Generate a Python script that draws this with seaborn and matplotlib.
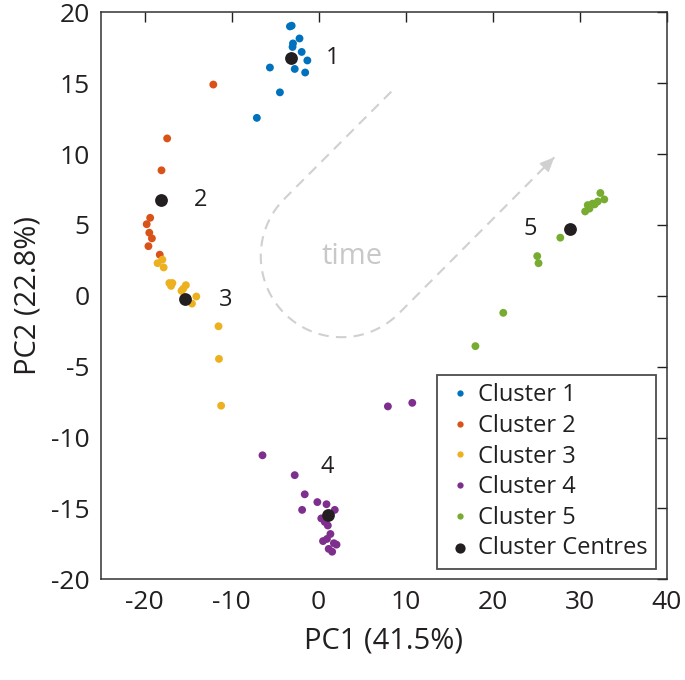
import numpy as np
import pandas as pd
import seaborn as sns
import matplotlib.pyplot as plt

# cluster points (PC1, PC2)
c1_x = [-3.3, -3.1, -2.2, -2.95, -3.0, -1.95, -1.3, -2.75, -1.55, -5.6, -4.45, -7.1]
c1_y = [19.0, 19.05, 18.15, 17.8, 17.55, 17.2, 16.6, 16.0, 15.75, 16.1, 14.35, 12.55]

c2_x = [-12.1, -17.4, -18.05, -19.35, -19.75, -19.45, -19.15, -19.55, -18.25]
c2_y = [14.9, 11.1, 8.85, 5.5, 5.05, 4.45, 4.05, 3.5, 2.9]

c3_x = [-17.95, -18.5, -17.8, -17.15, -16.8, -16.95, -15.25, -15.75, -15.55, -14.05, -14.55, -11.5, -11.45, -11.2]
c3_y = [2.55, 2.3, 2.0, 0.9, 0.9, 0.7, 0.75, 0.35, 0.5, -0.05, -0.55, -2.15, -4.45, -7.75]

c4_x = [7.95, 10.75, -6.45, -2.75, -1.6, -0.15, 0.9, -1.9, 1.85, 0.3, 0.7, 1.05, 1.35, 0.5, 0.95, 1.75, 2.05, 1.15, 1.55]
c4_y = [-7.8, -7.55, -11.25, -12.65, -14.0, -14.55, -14.7, -15.1, -15.1, -15.7, -15.95, -16.2, -16.8, -17.3, -17.15, -17.45, -17.55, -17.85, -18.05]

c5_x = [18.0, 21.2, 25.1, 25.25, 27.75, 30.6, 30.9, 31.1, 31.45, 31.7, 32.05, 32.35, 32.8]
c5_y = [-3.55, -1.2, 2.8, 2.3, 4.1, 5.95, 6.4, 6.15, 6.5, 6.45, 6.65, 7.25, 6.8]

centres_x = [-3.2, -18.1, -15.3, 1.05, 28.85]
centres_y = [16.8, 6.75, -0.25, -15.45, 4.7]

label_text = ['1', '2', '3', '4', '5']
label_x = [1.6, -13.6, -10.7, 1.0, 24.3]
label_y = [16.8, 6.75, -0.3, -12.1, 4.7]

cluster_names = ['Cluster 1', 'Cluster 2', 'Cluster 3', 'Cluster 4', 'Cluster 5']
cluster_colors = ['#0072BD', '#D95319', '#EDB120', '#7E2F8E', '#77AC30']

# "time" arrow: start, arc centre/radii, end
time_start = (8.34, 14.4)
time_arc = (2.64, 2.8, 9.29, 5.72)
time_end = (27.06, 9.77)

xs = [c1_x, c2_x, c3_x, c4_x, c5_x]
ys = [c1_y, c2_y, c3_y, c4_y, c5_y]
df = pd.concat([pd.DataFrame({'PC1': x, 'PC2': y, 'cluster': n})
                for x, y, n in zip(xs, ys, cluster_names)], ignore_index=True)
centres = pd.DataFrame({'PC1': centres_x, 'PC2': centres_y})

sns.set_style('white')
plt.rcParams['font.family'] = ['Open Sans', 'DejaVu Sans']
plt.rcParams['axes.unicode_minus'] = False
ink = '#231f20'

fig = plt.figure(figsize=(6.85, 6.8), dpi=100)
ax = fig.add_axes([0.1474, 0.148, 0.8263, 0.834])

# dashed time arrow
cx, cy, rx, ry = time_arc
t = np.radians(np.linspace(225, 45, 80))
px = np.concatenate([[time_start[0]], cx + rx * np.cos(t), [time_end[0]]])
py = np.concatenate([[time_start[1]], cy - ry * np.sin(t), [time_end[1]]])
ax.plot(px, py, color='#d0d0d0', lw=1.5, dashes=(5, 3.5), zorder=1)
ax.annotate('', xy=time_end, xytext=(time_end[0] - 1.2, time_end[1] - 0.75),
            arrowprops=dict(arrowstyle='-|>,head_length=0.9,head_width=0.4',
                            color='#d0d0d0', lw=1, shrinkA=0, shrinkB=0), zorder=1)
ax.text(3.78, 2.74, 'time', color='#c8c8c8', fontsize=21, ha='center', va='center')

sns.scatterplot(data=df, x='PC1', y='PC2', hue='cluster', palette=cluster_colors,
                s=32, linewidth=0, ax=ax, zorder=3)
sns.scatterplot(data=centres, x='PC1', y='PC2', color=ink, s=85, linewidth=0,
                ax=ax, zorder=4, label='Cluster Centres')

for tx, lx, ly in zip(label_text, label_x, label_y):
    ax.text(lx, ly, tx, fontsize=17, color=ink, ha='center', va='center')

ax.set_xlim(-25, 40)
ax.set_ylim(-20, 20)
ax.set_xticks(range(-20, 41, 10))
ax.set_yticks(range(-20, 21, 5))
ax.tick_params(direction='in', length=7, width=1, top=True, right=True,
               labelsize=19, colors=ink, pad=8)
for sp in ax.spines.values():
    sp.set_visible(True)
    sp.set_color('#333333')
    sp.set_linewidth(1.1)
ax.set_xlabel('PC1 (41.5%)', fontsize=21, color=ink, labelpad=8)
ax.set_ylabel('PC2 (22.8%)', fontsize=21, color=ink, labelpad=6)

leg = ax.legend(loc='lower right', fontsize=17, frameon=True, fancybox=False,
                borderaxespad=0.45, labelspacing=0.28, handletextpad=0.2,
                handlelength=1.2, borderpad=0.35, markerscale=0.8)
leg.get_frame().set_edgecolor(ink)
leg.get_frame().set_linewidth(1.3)
for txt in leg.get_texts():
    txt.set_color(ink)

fig.savefig('out.png', dpi=100)
